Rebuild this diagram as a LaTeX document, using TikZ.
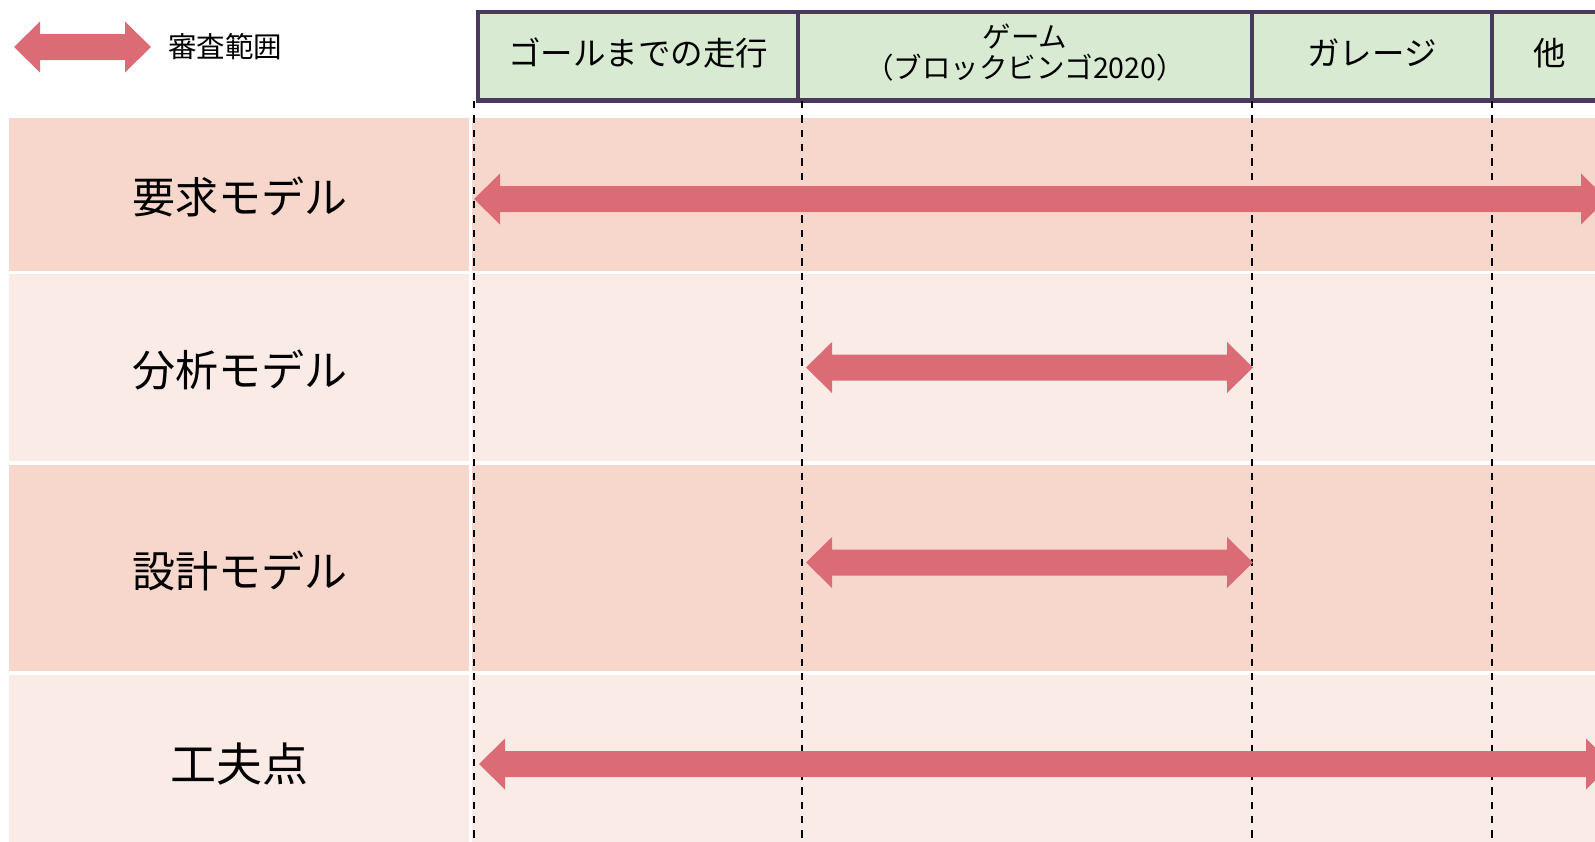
\documentclass[tikz,border=0pt]{standalone}
\usepackage{fontspec}
\setmainfont{Noto Sans CJK JP}
\usetikzlibrary{calc}
\definecolor{rowdark}{RGB}{247,215,203}
\definecolor{rowlight}{RGB}{251,235,231}
\definecolor{arrowc}{RGB}{219,108,118}
\definecolor{headfill}{RGB}{217,234,211}
\definecolor{headline}{RGB}{74,57,92}
\newcommand{\dbarrow}[2]{%
  \fill[arrowc] (#1) -- ++(26,-25.5) -- ++(0,12.5) -- ($(#2)+(-26,-13)$) -- ++(0,-12.5) -- (#2)
   -- ++(-26,25.5) -- ++(0,-12.5) -- ($(#1)+(26,13)$) -- ++(0,12.5) -- cycle;}
\begin{document}
\begin{tikzpicture}[x=1pt,y=-1pt,
  rowlabel/.style={font=\fontsize{43}{47}\selectfont, text=black},
  headtext/.style={font=\fontsize{32.5}{36}\selectfont, text=black, align=center, inner sep=0pt},
  gridline/.style={black, line width=2pt, dash pattern=on 7.3pt off 7pt},
  headcell/.style={fill=headfill, draw=headline, line width=4.5pt}]
\useasboundingbox (0,0) rectangle (1595,841);
\clip (0,0) rectangle (1595,841);
% rows
\fill[rowdark]  (9,118) rectangle (469,271);
\fill[rowdark]  (472,118) rectangle (1600,271);
\fill[rowlight] (9,273.5) rectangle (469,461);
\fill[rowlight] (472,273.5) rectangle (1600,461);
\fill[rowdark]  (9,464.5) rectangle (469,671);
\fill[rowdark]  (472,464.5) rectangle (1600,671);
\fill[rowlight] (9,674.5) rectangle (469,845);
\fill[rowlight] (472,674.5) rectangle (1600,845);
% header cells
\draw[headcell] (478,12) rectangle (798,100.5);
\draw[headcell] (798,12) rectangle (1252,100.5);
\draw[headcell] (1252,12) rectangle (1492,100.5);
\draw[headcell] (1492,12) rectangle (1620,100.5);
\node[headtext] (h1) at (638,53) {ゴールまでの走行};
\node[headtext, font=\fontsize{28.5}{31}\selectfont] (h2) at (1025,53) {ゲーム\\（ブロックビンゴ2020）};
\node[headtext] (h3) at (1372,53) {ガレージ};
\node[headtext] (h4) at (1550,53) {他};
% dashed grid lines
\coordinate (d1t) at (474,101); \coordinate (d1b) at (474,841);
\coordinate (d2t) at (802,101); \coordinate (d2b) at (802,841);
\coordinate (d3t) at (1252,101); \coordinate (d3b) at (1252,841);
\coordinate (d4t) at (1492,101); \coordinate (d4b) at (1492,841);
\draw[gridline] (d1t) -- (d1b);
\draw[gridline] (d2t) -- (d2b);
\draw[gridline] (d3t) -- (d3b);
\draw[gridline] (d4t) -- (d4b);
% row labels
\node[rowlabel] (r1) at (240,197) {要求モデル};
\node[rowlabel] (r2) at (240,370) {分析モデル};
\node[rowlabel] (r3) at (240,571) {設計モデル};
\node[rowlabel, font=\fontsize{46}{50}\selectfont] (r4) at (239,764) {工夫点};
% arrows
\coordinate (a1l) at (474,199); \coordinate (a1r) at (1607,199);
\coordinate (a2l) at (806,367.5); \coordinate (a2r) at (1253,367.5);
\coordinate (a3l) at (806,562.5); \coordinate (a3r) at (1253,562.5);
\coordinate (a4l) at (479,764); \coordinate (a4r) at (1612,764);
\dbarrow{a1l}{a1r}
\dbarrow{a2l}{a2r}
\dbarrow{a3l}{a3r}
\dbarrow{a4l}{a4r}
% legend
\coordinate (lgl) at (14,47); \coordinate (lgr) at (151,47);
\dbarrow{lgl}{lgr}
\node[font=\fontsize{28.5}{31}\selectfont, anchor=west, inner sep=0pt] (lgt) at (168,47) {審査範囲};
\end{tikzpicture}
\end{document}
